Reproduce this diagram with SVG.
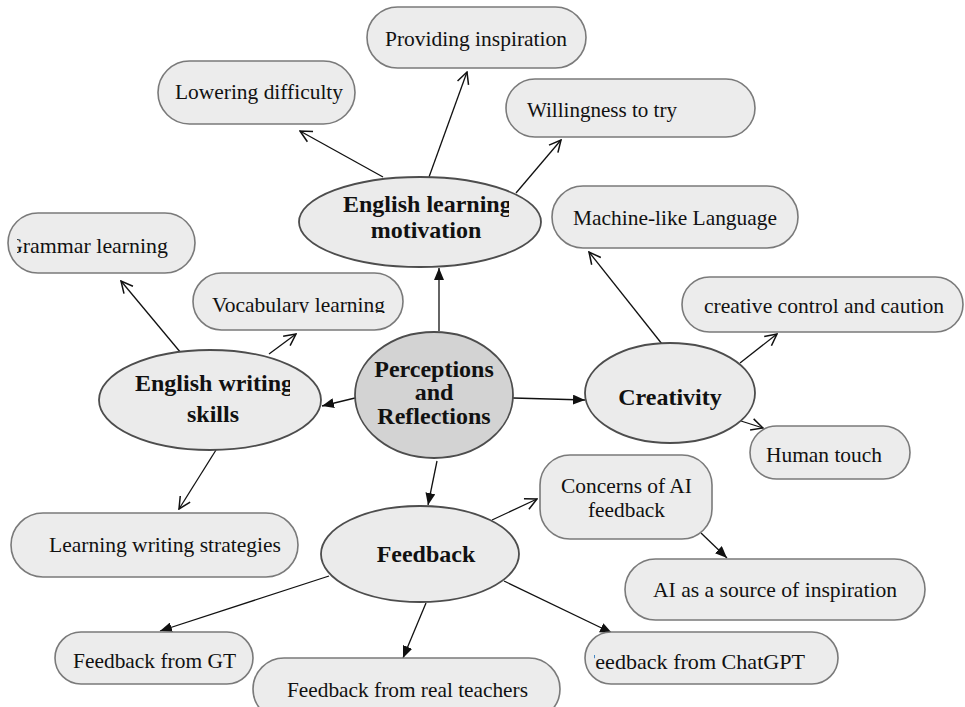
<svg xmlns="http://www.w3.org/2000/svg" width="965" height="707" viewBox="0 0 965 707">
<style>
.pill{fill:#ececec;stroke:#7a7a7a;stroke-width:1.6}
.ell{fill:#ebebeb;stroke:#4d4d4d;stroke-width:1.8}
.core{fill:#d3d3d3;stroke:#4d4d4d;stroke-width:1.8}
.t{font-family:"Liberation Serif","Times New Roman",serif;font-size:22px;fill:#111}
.b{font-family:"Liberation Serif","Times New Roman",serif;font-size:24px;font-weight:bold;fill:#111;text-anchor:middle}
.ln{stroke:#111;stroke-width:1.3;fill:none}
.op{marker-end:url(#open)}
.fl{marker-end:url(#fill)}
</style>
<defs>
<marker id="open" markerUnits="userSpaceOnUse" markerWidth="14" markerHeight="14" viewBox="0 0 12 12" refX="11" refY="6" orient="auto">
<path d="M1,1 L11,6 L1,11" fill="none" stroke="#111" stroke-width="1.3"/>
</marker>
<marker id="fill" markerUnits="userSpaceOnUse" markerWidth="12" markerHeight="10" viewBox="0 0 12 10" refX="12" refY="5" orient="auto">
<path d="M0,0 L12,5 L0,10 z" fill="#111"/>
</marker>
<clipPath id="cG"><rect x="17" y="200" width="200" height="80"/></clipPath>
<clipPath id="cV"><rect x="190" y="270" width="220" height="43"/></clipPath>
<clipPath id="cC"><rect x="594" y="630" width="250" height="60"/></clipPath>
<clipPath id="cE1"><rect x="300" y="180" width="209" height="40"/></clipPath>
<clipPath id="cE2"><rect x="100" y="360" width="190" height="40"/></clipPath>
</defs>

<g id="connectors">
<line class="ln fl" x1="439" y1="331" x2="439" y2="268"/>
<line class="ln fl" x1="355" y1="398" x2="322" y2="406"/>
<line class="ln fl" x1="513" y1="398" x2="585" y2="400"/>
<line class="ln fl" x1="437" y1="461" x2="428" y2="505"/>
<line class="ln fl" x1="329" y1="576" x2="160" y2="631"/>
<line class="ln fl" x1="426" y1="603" x2="403" y2="658"/>
<line class="ln fl" x1="504" y1="581" x2="612" y2="633"/>
<line class="ln fl" x1="701" y1="533" x2="727" y2="558"/>
<line class="ln op" x1="383" y1="177" x2="300" y2="131"/>
<line class="ln op" x1="429" y1="177" x2="467" y2="72"/>
<line class="ln op" x1="516" y1="193" x2="561" y2="140"/>
<line class="ln op" x1="662" y1="344" x2="589" y2="252"/>
<line class="ln op" x1="740" y1="363" x2="777" y2="334"/>
<line class="ln op" x1="741" y1="421" x2="763" y2="428"/>
<line class="ln op" x1="181" y1="353" x2="121" y2="281"/>
<line class="ln op" x1="269" y1="354" x2="296" y2="334"/>
<line class="ln op" x1="216" y1="450" x2="179" y2="509"/>
<line class="ln op" x1="492" y1="520" x2="537" y2="499"/>
</g>

<g id="providing-inspiration">
<rect class="pill" x="367" y="7" width="219" height="61" rx="30.5"/>
<text class="t" x="385" y="46" textLength="182" lengthAdjust="spacingAndGlyphs">Providing inspiration</text>
</g>
<g id="lowering-difficulty">
<rect class="pill" x="158" y="61" width="197" height="63" rx="31.5"/>
<text class="t" x="175" y="99" textLength="168" lengthAdjust="spacingAndGlyphs">Lowering difficulty</text>
</g>
<g id="willingness">
<rect class="pill" x="506" y="79" width="249" height="58" rx="29"/>
<text class="t" x="527" y="117" textLength="150" lengthAdjust="spacingAndGlyphs">Willingness to try</text>
</g>
<g id="grammar-learning">
<rect class="pill" x="8" y="213" width="187" height="60" rx="30"/>
<text class="t" x="7" y="253" textLength="161" lengthAdjust="spacingAndGlyphs" clip-path="url(#cG)">Grammar learning</text>
</g>
<g id="vocabulary-learning">
<rect class="pill" x="193" y="273" width="210" height="57" rx="28.5"/>
<text class="t" x="212" y="312" textLength="173" lengthAdjust="spacingAndGlyphs" clip-path="url(#cV)">Vocabulary learning</text>
</g>
<g id="machine-like">
<rect class="pill" x="552" y="186" width="246" height="62" rx="31"/>
<text class="t" x="573" y="225" textLength="204" lengthAdjust="spacingAndGlyphs">Machine-like Language</text>
</g>
<g id="creative-control">
<rect class="pill" x="682" y="277" width="281" height="55" rx="27.5"/>
<text class="t" x="704" y="313" textLength="240" lengthAdjust="spacingAndGlyphs">creative control and caution</text>
</g>
<g id="human-touch">
<rect class="pill" x="750" y="426" width="160" height="53" rx="26.5"/>
<text class="t" x="766" y="462" textLength="116" lengthAdjust="spacingAndGlyphs">Human touch</text>
</g>
<g id="concerns">
<rect class="pill" x="540" y="455" width="172" height="84" rx="30"/>
<text class="t" x="561" y="493" textLength="131" lengthAdjust="spacingAndGlyphs">Concerns of AI</text>
<text class="t" x="588" y="517" textLength="77" lengthAdjust="spacingAndGlyphs">feedback</text>
</g>
<g id="ai-source">
<rect class="pill" x="625" y="559" width="300" height="61" rx="30.5"/>
<text class="t" x="653" y="597" textLength="244" lengthAdjust="spacingAndGlyphs">AI as a source of inspiration</text>
</g>
<g id="feedback-chatgpt">
<rect class="pill" x="585" y="632" width="253" height="52" rx="26"/>
<text class="t" x="583" y="669" textLength="222" lengthAdjust="spacingAndGlyphs" clip-path="url(#cC)">Feedback from ChatGPT</text>
</g>
<g id="feedback-gt">
<rect class="pill" x="55" y="632" width="198" height="52" rx="26"/>
<text class="t" x="73" y="668" textLength="163" lengthAdjust="spacingAndGlyphs">Feedback from GT</text>
</g>
<g id="feedback-teachers">
<rect class="pill" x="253" y="658" width="307" height="62" rx="31"/>
<text class="t" x="287" y="697" textLength="241" lengthAdjust="spacingAndGlyphs">Feedback from real teachers</text>
</g>
<g id="learning-strategies">
<rect class="pill" x="11" y="513" width="287" height="64" rx="32"/>
<text class="t" x="49" y="552" textLength="232" lengthAdjust="spacingAndGlyphs">Learning writing strategies</text>
</g>

<g id="english-learning-motivation">
<ellipse class="ell" cx="420" cy="222" rx="121" ry="45"/>
<text class="b" x="343" y="212" style="text-anchor:start" clip-path="url(#cE1)">English learning</text>
<text class="b" x="426" y="238">motivation</text>
</g>
<g id="english-writing-skills">
<ellipse class="ell" cx="210" cy="400" rx="111" ry="50"/>
<text class="b" x="135" y="391" style="text-anchor:start" clip-path="url(#cE2)">English writing</text>
<text class="b" x="213" y="422">skills</text>
</g>
<g id="perceptions">
<ellipse class="core" cx="434" cy="395" rx="79" ry="63"/>
<text class="b" x="434" y="377">Perceptions</text>
<text class="b" x="434" y="400">and</text>
<text class="b" x="434" y="424">Reflections</text>
</g>
<g id="creativity">
<ellipse class="ell" cx="670" cy="393" rx="85" ry="50"/>
<text class="b" x="670" y="405">Creativity</text>
</g>
<g id="feedback">
<ellipse class="ell" cx="420" cy="554" rx="99" ry="48"/>
<text class="b" x="426" y="562">Feedback</text>
</g>
</svg>
